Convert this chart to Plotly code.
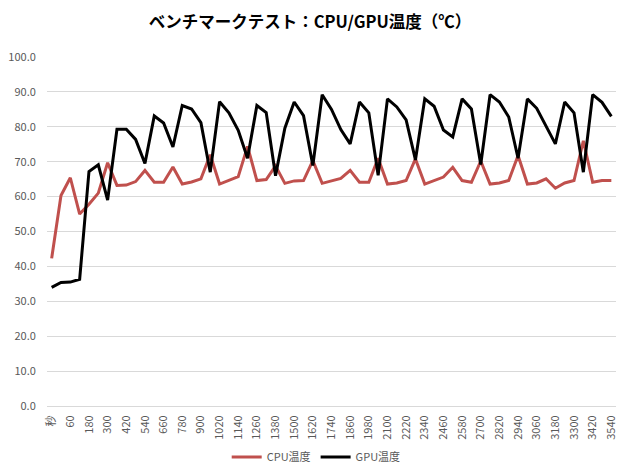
import plotly.graph_objects as go

categories = ["秒"] + [str(s) for s in range(0, 3541, 60)]

cpu_temp = [42.3, 60.3, 65.4, 55.0, 57.8, 61.0, 69.7, 63.2, 63.3, 64.3, 67.5,
            64.1, 64.1, 68.5, 63.6, 64.2, 65.1, 72.0, 63.6, 64.6, 65.7,
            74.4, 64.6, 64.9, 68.8, 63.8, 64.5, 64.6, 70.3, 63.8, 64.6,
            65.2, 67.5, 64.1, 64.1, 71.0, 63.6, 63.9, 64.6, 70.8, 63.6,
            64.6, 65.6, 68.4, 64.6, 64.1, 70.2, 63.6, 63.9, 64.6, 71.8,
            63.6, 63.9, 65.1, 62.4, 63.9, 64.6, 76.0, 64.1, 64.6, 64.6]

gpu_temp = [34.0, 35.4, 35.5, 36.3, 67.2, 69.1, 59.0, 79.3, 79.3, 76.4, 69.5,
            83.1, 81.1, 74.2, 86.1, 85.1, 81.2, 67.0, 87.2, 84.0, 79.0,
            71.0, 86.1, 84.1, 66.0, 79.6, 87.1, 83.2, 68.9, 89.2, 85.0,
            79.2, 75.1, 87.1, 84.0, 66.1, 88.0, 85.7, 82.0, 70.5, 88.0,
            85.9, 79.1, 77.1, 88.0, 85.1, 69.2, 89.2, 87.1, 82.8, 71.0,
            88.0, 85.3, 80.0, 75.1, 87.1, 84.0, 67.0, 89.2, 87.0, 83.0]

y_ticks = [i * 10 for i in range(11)]

font_family = "Noto Sans CJK JP, Noto Sans, sans-serif"

fig = go.Figure()
fig.add_trace(go.Scatter(x=categories, y=cpu_temp, name="CPU温度", mode="lines",
                         line=dict(color="#C0504D", width=3)))
fig.add_trace(go.Scatter(x=categories, y=gpu_temp, name="GPU温度", mode="lines",
                         line=dict(color="#000000", width=3)))

fig.update_layout(
    width=620, height=475,
    margin=dict(l=47, r=4, t=57, b=69, autoexpand=False),
    paper_bgcolor="white", plot_bgcolor="white",
    font=dict(family=font_family, color="#595959", size=11),
    title=dict(text="<b>ベンチマークテスト：CPU/GPU温度（℃）</b>",
               x=0.5, xanchor="center", xref="container",
               y=0.953, yanchor="middle", yref="container",
               font=dict(size=16.5, color="#000000", family=font_family)),
    showlegend=True,
    legend=dict(orientation="h", xref="container", x=0.51, xanchor="center",
                yref="container", y=0.038, yanchor="middle",
                font=dict(size=11, color="#595959")),
    xaxis=dict(type="category", range=[-0.5, len(categories) - 0.5],
               tickvals=categories[::2], ticktext=categories[::2],
               tickangle=-90, tickfont=dict(size=11, color="#595959"),
               showgrid=False, showline=False, zeroline=False,
               ticks="outside", ticklen=4, tickcolor="rgba(0,0,0,0)",
               automargin=False),
    yaxis=dict(range=[0, 100], tickvals=y_ticks, tickformat=".1f",
               showgrid=True, gridcolor="#d9d9d9", gridwidth=1,
               zeroline=True, zerolinecolor="#d9d9d9", zerolinewidth=1,
               showline=False, ticks="outside", ticklen=8,
               tickcolor="rgba(0,0,0,0)", automargin=False,
               tickfont=dict(size=11, color="#595959")),
)

fig.write_html("out.html",
               config={"displayModeBar": False},
               post_script="document.body.style.margin='0';document.body.style.padding='0';")
